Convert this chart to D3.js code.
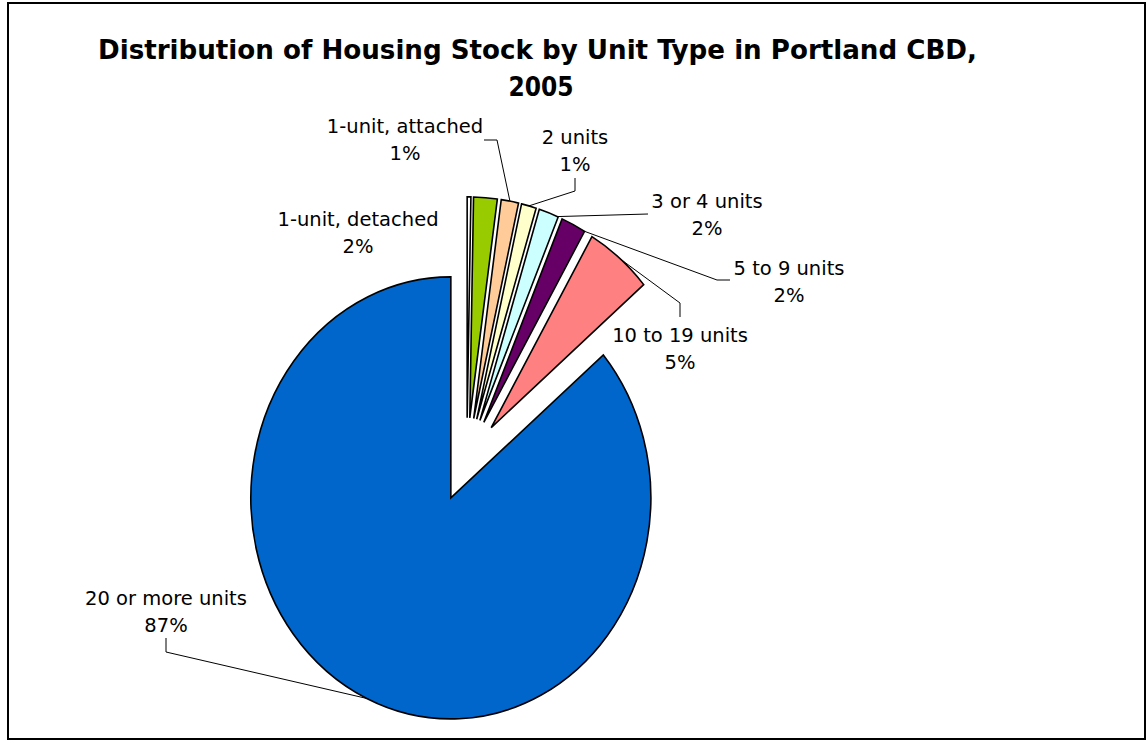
<!DOCTYPE html>
<html>
<head>
<meta charset="utf-8">
<script src="https://cdn.jsdelivr.net/npm/d3@7"></script>
<style>
  body { margin: 0; background: #fff; }
  svg text { font-family: "DejaVu Sans", Verdana, sans-serif; }
</style>
</head>
<body>
<svg id="chart" width="1147" height="741"></svg>
<script>
// data (shares in %, clockwise from 12 o'clock)
var categories = ["", "1-unit, detached", "1-unit, attached", "2 units", "3 or 4 units",
                  "5 to 9 units", "10 to 19 units", "20 or more units"];
var shares = [0.3, 1.9, 1.4, 1.2, 1.6, 2.0, 5.4, 86.2];
var pctLabels = ["", "2%", "1%", "1%", "2%", "2%", "5%", "87%"];
var colors = ["#FFFFFF", "#99CC00", "#FFCC99", "#FFFFCC", "#CCFFFF", "#660066", "#FF8080", "#0066CC"];
var titleLines = ["Distribution of Housing Stock by Unit Type in Portland CBD,", "2005"];

// label layout: x centre, first baseline, leader elbows, where on the slice arc the leader ends
var labelLayout = [
  null,
  {x: 358, y: 226, elbows: [], at: null},
  {x: 405, y: 133, elbows: [[484, 140], [497, 140]], at: 0.5},
  {x: 575, y: 144, elbows: [[575, 178], [575, 191]], at: 0.5},
  {x: 707, y: 208, elbows: [[648, 214]], at: 0.95},
  {x: 789, y: 275, elbows: [[730, 280], [717, 280]], at: 1.0},
  {x: 680, y: 342, elbows: [[680, 317], [680, 303]], at: 0.53},
  {x: 166, y: 605, elbows: [[166, 638], [166, 652]], at: 0.5}
];

var svg = d3.select('#chart');
var cx = 466.8, cy = 459.8;   // pie centre before explosion
var r = 200, sy = 1.105;       // pie is a bit taller than wide in the source
var explode = 38;

svg.append('rect')
  .attr('x', 8).attr('y', 3).attr('width', 1137).attr('height', 736)
  .attr('fill', 'none').attr('stroke', '#000').attr('stroke-width', 2);

svg.selectAll('text.title')
  .data(titleLines)
  .enter()
  .append('text')
    .attr('class', 'title')
    .attr('x', function(d, i) { return i == 0 ? 537.5 : 541; })
    .attr('y', function(d, i) { return i == 0 ? 59 : 96; })
    .attr('text-anchor', 'middle')
    .attr('font-size', 26)
    .attr('font-weight', 'bold')
    .style('font-family', '"DejaVu Sans Condensed", "DejaVu Sans", sans-serif')
    .style('font-stretch', 'condensed')
    .attr('textLength', function(d, i) { return i == 0 ? 879 : null; })
    .attr('lengthAdjust', 'spacingAndGlyphs')
    .text(function(d) { return d; });

var pie = d3.pie().sort(null).value(function(d) { return d; });
var arcs = pie(shares);
var arc = d3.arc().innerRadius(0).outerRadius(r);

function sliceOrigin(a) {
  var mid = (a.startAngle + a.endAngle) / 2;
  return [cx + explode * Math.sin(mid), cy - explode * Math.cos(mid) * sy];
}

svg.append('g')
  .selectAll('path')
  .data(arcs)
  .enter()
  .append('path')
    .attr('transform', function(d) {
      var o = sliceOrigin(d);
      return 'translate(' + o[0] + ',' + o[1] + ') scale(1,' + sy + ')';
    })
    .attr('d', arc)
    .attr('fill', function(d, i) { return colors[i]; })
    .attr('stroke', '#000')
    .attr('stroke-width', 1.6)
    .attr('stroke-linejoin', 'miter')
    .attr('vector-effect', 'non-scaling-stroke');

// leader lines
var leaders = [];
arcs.forEach(function(d, i) {
  var L = labelLayout[i];
  if (!L || L.at === null) return;
  var o = sliceOrigin(d);
  var ang = d.startAngle + (d.endAngle - d.startAngle) * L.at;
  var p = [o[0] + r * Math.sin(ang), o[1] - r * Math.cos(ang) * sy];
  leaders.push(L.elbows.concat([p]));
});

svg.append('g')
  .selectAll('path')
  .data(leaders)
  .enter()
  .append('path')
    .attr('d', d3.line())
    .attr('fill', 'none')
    .attr('stroke', '#000')
    .attr('stroke-width', 1);

// labels
var lab = svg.append('g')
  .selectAll('text')
  .data(categories.map(function(c, i) { return {name: c, pct: pctLabels[i], L: labelLayout[i]}; })
        .filter(function(d) { return d.L; }))
  .enter()
  .append('text')
    .attr('text-anchor', 'middle')
    .attr('font-size', 19.5)
    .attr('fill', '#000');

lab.append('tspan')
  .attr('x', function(d) { return d.L.x; })
  .attr('y', function(d) { return d.L.y; })
  .text(function(d) { return d.name; });
lab.append('tspan')
  .attr('x', function(d) { return d.L.x; })
  .attr('y', function(d) { return d.L.y + 27; })
  .text(function(d) { return d.pct; });
</script>
</body>
</html>
